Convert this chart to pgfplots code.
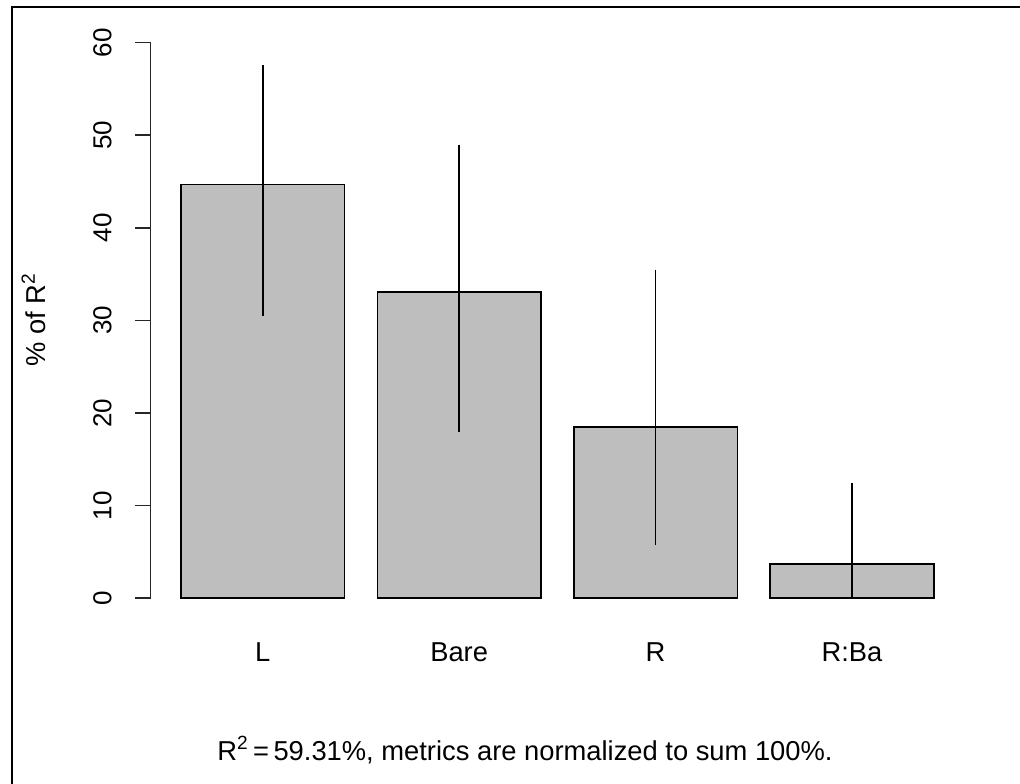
\documentclass[border=0pt]{standalone}
\usepackage{pgfplots}
\pgfplotsset{compat=1.18}
\usepackage{fontspec}
\setmainfont{Liberation Sans}
\definecolor{barfill}{HTML}{BEBEBE}
\pgfplotstableread{
x y ep em
0 44.7 12.9 14.2
1 33.1 15.9 15.1
2 18.5 17.0 12.8
3 3.7 8.7 3.7
}\imp
\begin{document}
\begin{tikzpicture}
\path[use as bounding box] (0pt,0pt) rectangle (765pt,-588pt);
\draw[line width=1.9pt, black] (9.15pt,-588pt) -- (9.15pt,-5.4pt) -- (765pt,-5.4pt);
\begin{axis}[
  at={(113pt,-448.7pt)}, anchor=south west,
  scale only axis, width=599.5pt, height=416.7pt,
  xmin=-0.5708, xmax=3.499, ymin=0, ymax=60,
  axis y line*=left, axis x line*=bottom,
  x axis line style={draw=none},
  y axis line style={line width=1.2pt, black!85},
  xtick={0,1,2,3}, xticklabels={L,Bare,R,R:Ba},
  xtick style={draw=none},
  ytick={0,10,20,30,40,50,60},
  ytick style={line width=1.2pt, black!85},
  tick align=outside, major tick length=11.6pt,
  /pgf/number format/assume math mode=true,
  yticklabel shift=17.8pt, xticklabel shift=35.9pt,
  yticklabel style={rotate=90, anchor=base, inner sep=0pt, font=\fontsize{19.5}{19.5}\selectfont},
  xticklabel style={anchor=base, inner sep=0pt, font=\fontsize{20.5}{20.5}\selectfont},
  clip=false,
]
\addplot[ybar, bar width=0.8333, fill=barfill, draw=black, line width=1.2pt,
  error bars/.cd, y dir=both, y explicit, error mark=none,
  error bar style={line width=1.2pt, black}]
  table[x=x, y=y, y error plus=ep, y error minus=em] {\imp};
\end{axis}
\node[rotate=90, anchor=base, inner sep=0pt, font=\fontsize{20.5}{24}\selectfont] at (33.75pt,-240pt) {\% of R\textsuperscript{2}};
\node[anchor=base, inner sep=0pt, font=\fontsize{20.5}{24}\selectfont] at (393.75pt,-570pt) {R\textsuperscript{2}\,=\,59.31\%, metrics are normalized to sum 100\%.};
\end{tikzpicture}
\end{document}
